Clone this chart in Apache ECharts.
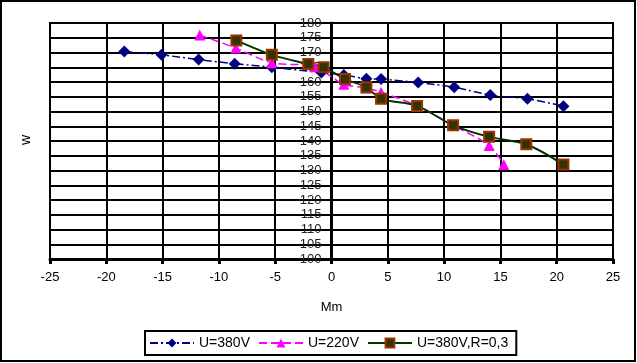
<!DOCTYPE html>
<html>
<head>
<meta charset="utf-8">
<script src="https://cdn.jsdelivr.net/npm/echarts@6/dist/echarts.min.js"></script>
<style>
html,body{margin:0;padding:0;background:#fff;}
#c{width:637px;height:363px;}
</style>
</head>
<body>
<div id="c"></div>
<script>
const seriesNames = ['U=380V', 'U=220V', 'U=380V,R=0,3'];
const xTickLabels = [-25, -20, -15, -10, -5, 0, 5, 10, 15, 20, 25];
const yTickLabels = [100, 105, 110, 115, 120, 125, 130, 135, 140, 145, 150, 155, 160, 165, 170, 175, 180];

const u380 = [[-18.4,170.3],[-15.1,169.2],[-11.8,167.6],[-8.6,166.2],[-5.3,165.0],[-0.9,163.2],[1.1,162.4],[3.1,161.1],[4.4,161.0],[7.7,159.8],[10.9,158.2],[14.1,155.6],[17.4,154.3],[20.6,151.8]];
const u220 = [[-11.7,175.9],[-8.5,171.5],[-5.3,166.5],[-1.5,165.2],[1.1,159.2],[3.1,158.0],[4.4,156.5],[7.6,152.0],[10.8,145.3],[14.0,138.5],[15.3,132.0]];
const u380r = [[-8.45,174.1],[-5.3,169.2],[-2.06,166.1],[-0.7,165.0],[1.2,161.0],[3.1,158.2],[4.4,154.3],[7.6,151.9],[10.8,145.3],[14.0,141.4],[17.3,138.9],[20.6,132.0]];

const FONT = '"Liberation Sans", Arial, sans-serif';
const GRID_LEFT = 50, GRID_RIGHT = 24, WIDTH = 637;
const plotW = WIDTH - GRID_LEFT - GRID_RIGHT;
const xMin = xTickLabels[0], xMax = xTickLabels[xTickLabels.length - 1];
// place y axis where x = 0 (same as an axis crossing at zero)
const yAxisOffset = -plotW * (0 - xMin) / (xMax - xMin);

const chart = echarts.init(document.getElementById('c'));
chart.setOption({
  animation: false,
  backgroundColor: '#fff',
  textStyle: { fontFamily: FONT },
  grid: { left: GRID_LEFT, right: GRID_RIGHT, top: 23, bottom: 104, show: true, borderColor: '#000', borderWidth: 2, backgroundColor: 'transparent' },
  xAxis: {
    type: 'value',
    min: xMin, max: xMax, interval: 5,
    name: 'Mm', nameLocation: 'middle', nameGap: 42,
    nameTextStyle: { color: '#000', fontSize: 13, fontFamily: FONT },
    axisLine: { onZero: false, lineStyle: { color: '#000', width: 3 } },
    axisTick: { show: true, length: 5, lineStyle: { color: '#000', width: 3 } },
    axisLabel: { color: '#000', fontSize: 13, margin: 12, fontFamily: FONT },
    splitLine: { show: true, lineStyle: { color: '#000', width: 2 } }
  },
  yAxis: {
    type: 'value', position: 'left', offset: yAxisOffset,
    min: yTickLabels[0], max: yTickLabels[yTickLabels.length - 1], interval: 5,
    axisLine: { onZero: false, lineStyle: { color: '#000', width: 3 } },
    axisTick: { show: true, length: 5, lineStyle: { color: '#000', width: 2 } },
    axisLabel: { color: '#222', fontSize: 13, margin: 10, fontFamily: FONT },
    splitLine: { show: true, lineStyle: { color: '#000', width: 2 } }
  },
  legend: {
    left: 145, top: 331,
    itemWidth: 44, itemHeight: 11, itemGap: 8,
    padding: [5, 8, 5, 4],
    borderColor: '#000', borderWidth: 2, borderRadius: 0,
    textStyle: { color: '#000', fontSize: 14, fontFamily: FONT },
    data: seriesNames
  },
  series: [
    {
      name: seriesNames[0], type: 'line', data: u380, smooth: 0.3,
      symbol: 'diamond', symbolSize: 12,
      itemStyle: { color: '#000080' },
      lineStyle: { color: '#000080', width: 1.5, type: [8, 3, 2, 3] }
    },
    {
      name: seriesNames[1], type: 'line', data: u220, smooth: 0.3,
      symbol: 'triangle', symbolSize: 11,
      itemStyle: { color: '#FF00FF' },
      lineStyle: { color: '#FF00FF', width: 1.5, type: [8, 4] }
    },
    {
      name: seriesNames[2], type: 'line', data: u380r, smooth: 0.3,
      symbol: 'rect', symbolSize: 10,
      itemStyle: { color: '#333300', borderColor: '#993300', borderWidth: 2 },
      lineStyle: { color: '#003300', width: 2 }
    }
  ],
  graphic: [
    { type: 'rect', shape: { x: 1, y: 1, width: 634, height: 360 }, style: { fill: 'none', stroke: '#000', lineWidth: 2 }, silent: true },
    { type: 'text', x: 26, y: 140, rotation: Math.PI / 2, style: { text: 'w', fill: '#000', font: '14px ' + FONT, textAlign: 'center', textVerticalAlign: 'middle' } }
  ]
});
</script>
</body>
</html>
